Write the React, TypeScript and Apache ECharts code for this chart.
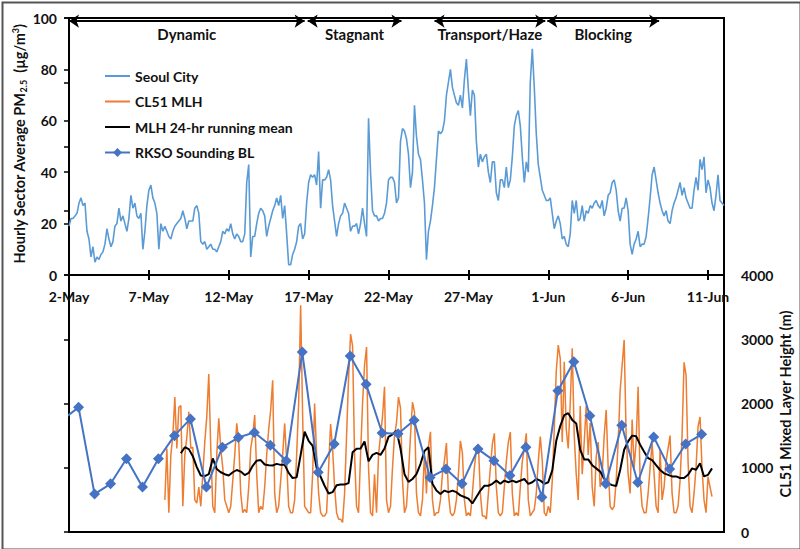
import React, { useEffect, useRef } from "react";
import * as echarts from "echarts";

// x axis: days since 2-May 00:00
const tickLabels = ["2-May", "7-May", "12-May", "17-May", "22-May", "27-May", "1-Jun", "6-Jun", "11-Jun"];

// Seoul City hourly-sector PM2.5, sampled every 3 h from 2-May 00h (µg/m3)
const pmStep = 0.125;
const pmValues = [
  19, 22, 22, 23, 24, 28, 30, 27,
  28, 17, 14, 7, 11, 5, 7, 6,
  8, 9, 12, 18, 14, 11, 13, 19,
  20, 26, 21, 23, 20, 17, 22, 31,
  26, 28, 23, 22, 24, 10, 17, 27,
  33, 35, 30, 28, 24, 10, 20, 17,
  19, 17, 15, 14, 17, 19, 20, 21,
  22, 25, 22, 18, 21, 21, 21, 26,
  27, 24, 13, 12, 13, 10, 11, 12,
  10, 10, 9, 11, 13, 17, 16, 18,
  17, 20, 16, 14, 16, 15, 13, 13,
  16, 36, 43, 7, 15, 15, 20, 24,
  26, 25, 23, 15, 19, 22, 25, 27,
  30, 27, 31, 22, 27, 16, 4, 4,
  8, 10, 13, 19, 20, 14, 16, 28,
  36, 39, 38, 39, 35, 48, 26, 37,
  37, 38, 41, 37, 27, 21, 15, 20,
  23, 24, 28, 26, 24, 17, 19, 19,
  20, 16, 20, 26, 20, 15, 61, 40,
  25, 23, 23, 21, 22, 22, 24, 28,
  37, 38, 38, 36, 28, 30, 52, 57,
  56, 53, 47, 34, 40, 66, 54, 47,
  45, 37, 28, 6, 17, 21, 27, 34,
  45, 56, 55, 56, 60, 70, 75, 80,
  73, 70, 67, 66, 70, 65, 76, 84,
  72, 62, 72, 70, 52, 42, 47, 44,
  46, 47, 40, 36, 44, 44, 32, 29,
  37, 37, 34, 42, 34, 37, 46, 58,
  62, 64, 58, 46, 36, 44, 40, 75,
  88, 73, 55, 43, 38, 33, 31, 29,
  29, 30, 24, 18, 21, 23, 20, 14,
  15, 12, 11, 16, 29, 24, 29, 21,
  22, 27, 21, 25, 24, 27, 26, 28,
  29, 27, 26, 29, 23, 26, 31, 32,
  36, 37, 33, 25, 21, 26, 26, 30,
  25, 12, 8, 12, 14, 17, 11, 12,
  12, 15, 22, 30, 39, 42, 37, 32,
  28, 25, 23, 25, 21, 20, 25, 28,
  30, 33, 36, 31, 34, 30, 28, 26,
  26, 33, 38, 33, 45, 41, 46, 32,
  37, 34, 28, 25, 31, 39, 29, 28,
  27,
];

// CL51 mixed layer height (m), every 3 h from 8-May 00h
const mlhStart = 6;
const mlhStep = 0.125;
const mlhValues = [
  500, 1300, 300, 1200, 1500, 2100, 1300, 1940,
  1970, 400, 1200, 1470, 1870, 1300, 1320, 500,
  450, 700, 400, 900, 1400, 1800, 2460, 1300,
  400, 300, 1200, 1770, 1300, 1000, 500, 400,
  300, 400, 800, 1200, 1690, 1400, 600, 300,
  350, 300, 700, 1300, 1500, 1820, 900, 300,
  400, 350, 700, 1200, 1600, 1900, 2360, 600,
  300, 400, 800, 1200, 1690, 1100, 400, 300,
  300, 500, 1200, 2000, 3530, 1800, 400, 350,
  300, 300, 900, 2000, 1200, 600, 300, 250,
  250, 300, 1000, 1680, 1300, 700, 300, 200,
  200, 150, 600, 1500, 2400, 3080, 2900, 1200,
  400, 300, 1200, 2000, 2600, 2880, 1000, 300,
  250, 900, 300, 1200, 1500, 1800, 2260, 500,
  300, 400, 1000, 1500, 1700, 2100, 1930, 800,
  300, 400, 900, 1500, 2020, 1870, 600, 300,
  250, 500, 1230, 600, 1320, 1560, 500, 250,
  300, 300, 500, 900, 1110, 1385, 600, 300,
  250, 300, 500, 900, 1420, 1230, 500, 250,
  300, 250, 600, 1000, 1280, 1360, 600, 250,
  250, 200, 600, 1000, 1370, 1535, 700, 300,
  250, 300, 700, 1100, 1400, 1555, 600, 250,
  300, 250, 700, 1100, 1300, 1535, 500, 250,
  300, 350, 600, 1100, 1485, 1110, 300, 250,
  400, 300, 800, 1600, 2500, 2910, 2700, 1400,
  2650, 1600, 1300, 2000, 2860, 1500, 900, 500,
  1960, 900, 1400, 1960, 1200, 1700, 700, 400,
  1170, 1400, 700, 900, 1500, 1900, 1000, 400,
  350, 400, 800, 1400, 2200, 2600, 2990, 1500,
  900, 600, 1750, 1000, 1400, 2260, 800, 400,
  300, 300, 600, 1000, 1390, 900, 400, 300,
  1280, 500, 700, 1100, 1300, 1500, 600, 300,
  300, 400, 800, 1500, 2640, 2440, 1100, 400,
  300, 600, 1000, 1640, 1790, 1000, 500, 300,
  860, 700, 550,
];

// MLH 24-hr running mean (m), every 6 h from 9-May 00h
const meanStart = 7;
const meanStep = 0.25;
const meanValues = [
  1225, 1320, 1290, 1180,
  1010, 880, 870, 900,
  1145, 980, 930, 900,
  880, 930, 965, 940,
  887, 920, 1030, 1110,
  1120, 1050, 1040, 1035,
  1060, 1045, 1045, 920,
  840, 850, 1200, 1560,
  1420, 1340, 1000, 860,
  720, 600, 620, 727,
  740, 740, 760, 1240,
  1295, 1300, 1410, 1100,
  1200, 1230, 1200, 1300,
  1480, 1520, 1575, 1300,
  900, 780, 825, 900,
  1058, 1260, 1320, 750,
  645, 593, 645, 620,
  645, 620, 570, 545,
  520, 445, 545, 645,
  720, 720, 750, 800,
  750, 800, 775, 800,
  775, 800, 825, 750,
  775, 825, 800, 750,
  775, 960, 1420, 1650,
  1820, 1850, 1745, 1690,
  1280, 1130, 1130, 1040,
  990, 940, 830, 757,
  730, 715, 965, 1280,
  1410, 1500, 1490, 1360,
  1250, 1150, 1120, 1040,
  965, 913, 890, 865,
  865, 840, 840, 890,
  990, 970, 1070, 865,
  890, 990,
];

// RKSO sounding boundary layer height (m), one per day from 1-May, launched at ~0.6 day
const soundingFirstDay = -1;
const soundingTime = 0.6;
const soundingValues = [
  1750, 1940, 590, 750, 1140, 700, 1140, 1500, 1760, 700, 1320,
  1470, 1550, 1350, 1110, 2800, 930, 1370, 2740, 2300, 1540,
  1530, 1740, 850, 980, 750, 1290, 1110, 880, 1320, 540,
  2200, 2650, 1810, 750, 1660, 770, 1480, 980, 1370, 1520,
];

const periodNames = ["Dynamic", "Stagnant", "Transport/Haze", "Blocking"];
const periodFrom = [0, 14.94, 22.88, 29.94];
const periodTo = [14.75, 20.81, 29.81, 36.94];
const periodArrowLevel = 98.8;

const FONT = "Lato";
const TXT = "#111";

export default function App() {
  const ref = useRef<HTMLDivElement>(null);

  useEffect(() => {
    if (!ref.current) return;
    const chart = echarts.init(ref.current, null, { renderer: "svg" });

    const pmData = pmValues.map((v, i) => [i * pmStep, v]);
    const mlhData = mlhValues.map((v, i) => [mlhStart + i * mlhStep, v]);
    const meanData = meanValues.map((v, i) => [meanStart + i * meanStep, v]);
    const soundingData = soundingValues.map((v, i) => [soundingFirstDay + i + soundingTime, v]);

    const periodLines = periodNames.map((name, i) => [
      { coord: [periodFrom[i], periodArrowLevel], name },
      { coord: [periodTo[i], periodArrowLevel] },
    ]);

    const labelStyle = { fontFamily: FONT, fontWeight: "bold" as const, fontSize: 14, color: TXT };

    chart.setOption({
      animation: false,
      backgroundColor: "#fff",
      textStyle: { fontFamily: FONT },
      grid: [
        { left: 69, right: 76, top: 18, bottom: 17, show: true, borderColor: "#000", borderWidth: 2, backgroundColor: "transparent" },
        { left: 69, right: 76, top: 18, height: 257, show: false },
      ],
      legend: {
        orient: "vertical",
        left: 99,
        top: 64,
        itemGap: 11.5,
        itemWidth: 25,
        itemHeight: 11,
        textStyle: { fontFamily: FONT, fontWeight: "bold", fontSize: 14, color: TXT },
        data: [
          { name: "Seoul City", itemStyle: { opacity: 0 } },
          { name: "CL51 MLH", itemStyle: { opacity: 0 } },
          { name: "MLH 24-hr running mean", itemStyle: { opacity: 0 } },
          { name: "RKSO Sounding BL" },
        ],
      },
      xAxis: [
        { gridIndex: 0, type: "value", min: 0, max: 41, show: false },
        {
          gridIndex: 1,
          type: "value",
          min: 0,
          max: 41,
          interval: 5,
          position: "bottom",
          axisLine: { show: true, lineStyle: { color: "#000", width: 2 } },
          axisTick: { show: true, length: 5, lineStyle: { color: "#000", width: 2 } },
          axisLabel: {
            ...labelStyle,
            margin: 14,
            showMaxLabel: false,
            formatter: (v: number) => tickLabels[Math.round(v / 5)] ?? "",
          },
          splitLine: { show: false },
        },
        {
          gridIndex: 1,
          type: "value",
          min: 0,
          max: 41,
          interval: 5,
          position: "bottom",
          axisLine: { show: false },
          axisTick: { show: true, inside: true, length: 5, lineStyle: { color: "#000", width: 2 } },
          axisLabel: { show: false },
          splitLine: { show: false },
        },
      ],
      yAxis: [
        {
          gridIndex: 0,
          type: "value",
          position: "right",
          min: 0,
          max: 8000,
          interval: 1000,
          axisLine: { show: true, lineStyle: { color: "#000", width: 2 } },
          axisTick: { show: true, inside: true, length: 5, lineStyle: { color: "#000", width: 1.5 } },
          axisLabel: { ...labelStyle, margin: 17, formatter: (v: number) => (v <= 4000 ? String(v) : "") },
          splitLine: { show: false },
        },
        {
          gridIndex: 1,
          type: "value",
          position: "left",
          min: 0,
          max: 100,
          interval: 20,
          axisLine: { show: true, lineStyle: { color: "#000", width: 2 } },
          axisTick: { show: true, length: 5, lineStyle: { color: "#000", width: 1.5 } },
          axisLabel: { ...labelStyle, margin: 12 },
          splitLine: { show: false },
        },
      ],
      series: [
        {
          name: "Seoul City",
          type: "line",
          xAxisIndex: 1,
          yAxisIndex: 1,
          data: pmData,
          symbol: "none",
          color: "#5B9BD5",
          lineStyle: { width: 1.6, color: "#5B9BD5" },
          markLine: {
            silent: true,
            symbol: ["arrow", "arrow"],
            symbolSize: [10, 10],
            lineStyle: { color: "#000", width: 2, type: "solid" },
            label: {
              show: true,
              position: "insideMiddleBottom",
              distance: 5,
              formatter: (p: any) => p.name,
              fontFamily: FONT,
              fontWeight: "bold",
              fontSize: 15,
              color: TXT,
            },
            data: periodLines,
          },
        },
        {
          name: "CL51 MLH",
          type: "line",
          xAxisIndex: 0,
          yAxisIndex: 0,
          data: mlhData,
          symbol: "none",
          color: "#ED7D31",
          lineStyle: { width: 1.5, color: "#ED7D31" },
        },
        {
          name: "MLH 24-hr running mean",
          type: "line",
          xAxisIndex: 0,
          yAxisIndex: 0,
          data: meanData,
          symbol: "none",
          color: "#000",
          lineStyle: { width: 2, color: "#000" },
        },
        {
          name: "RKSO Sounding BL",
          type: "line",
          xAxisIndex: 0,
          yAxisIndex: 0,
          data: soundingData,
          symbol: "diamond",
          symbolSize: 11,
          showAllSymbol: true,
          color: "#4472C4",
          itemStyle: { color: "#4472C4" },
          lineStyle: { width: 2, color: "#4472C4" },
        },
      ],
      graphic: [
        {
          type: "rect",
          left: 0,
          top: 0,
          shape: { x: 1, y: 1, width: 798, height: 547 },
          style: { fill: "none", stroke: "#555", lineWidth: 2 },
          silent: true,
          z: 100,
        },
        {
          type: "text",
          x: 19,
          y: 144,
          rotation: Math.PI / 2,
          style: {
            text: "{a|Hourly Sector Average PM}{b|2.5}{a|  (µg/m}{c|3}{a|)}",
            align: "center",
            verticalAlign: "middle",
            fill: TXT,
            rich: {
              a: { fontFamily: FONT, fontWeight: "bold", fontSize: 14.5, lineHeight: 22, verticalAlign: "middle", fill: TXT },
              b: { fontFamily: FONT, fontWeight: "bold", fontSize: 9, lineHeight: 22, verticalAlign: "bottom", padding: [0, 0, 2, 0], fill: TXT },
              c: { fontFamily: FONT, fontWeight: "bold", fontSize: 9, lineHeight: 22, verticalAlign: "top", padding: [3, 0, 0, 0], fill: TXT },
            },
          },
        },
        {
          type: "text",
          x: 785,
          y: 404,
          rotation: Math.PI / 2,
          style: {
            text: "CL51 Mixed Layer Height (m)",
            align: "center",
            verticalAlign: "middle",
            fontFamily: FONT,
            fontWeight: "bold",
            fontSize: 14.5,
            fill: TXT,
          },
        },
      ],
    });

    return () => chart.dispose();
  }, []);

  return (
    <div
      ref={ref}
      style={{ position: "absolute", left: 0, top: 0, width: 800, height: 549, background: "#fff" }}
    />
  );
}
